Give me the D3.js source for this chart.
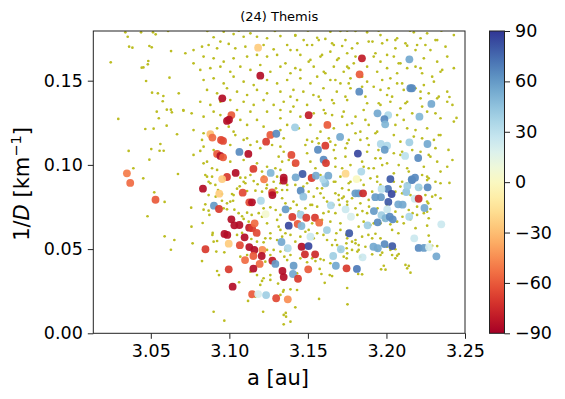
<!DOCTYPE html>
<html>
<head>
<meta charset="UTF-8">
<style>
  body { margin: 0; background: #fff; }
  text { font-family: "DejaVu Sans", sans-serif; }
</style>
</head>
<body>
<svg id="chart"></svg>
<script src="https://d3js.org/d3.v7.min.js"></script>
<script>
// background asteroids in the region: [a (au), 1/D (1/km)]
const background = [
[3.0338,0.1787],[3.0438,0.1787],[3.0514,0.1787],[3.0531,0.1775],[3.0610,0.1795],[3.0353,0.1761],[3.0362,0.1702],[3.0383,0.1696],
[3.0491,0.1706],[3.0506,0.1698],[3.0629,0.1676],[3.0245,0.1609],[3.0484,0.1617],[3.0481,0.1597],[3.0453,0.1579],[3.0442,0.1577],
[3.0619,0.1518],[3.0470,0.1498],[3.0508,0.1429],[3.0545,0.1425],[3.0580,0.1409],[3.0576,0.1378],[3.0678,0.1425],[3.0602,0.1328],
[3.0628,0.1328],[3.0634,0.1312],[3.0538,0.1316],[3.0708,0.1322],[3.0760,0.1306],[3.0293,0.1273],[3.0551,0.1277],[3.0465,0.1213],
[3.0518,0.1215],[3.0601,0.1233],[3.0667,0.1182],[3.0561,0.1124],[3.0503,0.1094],[3.0359,0.1083],[3.0556,0.1084],[3.0582,0.1084],
[3.0491,0.1031],[3.0389,0.0980],[3.0673,0.0946],[3.0452,0.0920],
[3.0522,0.0837],[3.0588,0.0780],[3.0479,0.0695],[3.0757,0.0746],[3.0759,0.0633],[3.0588,0.0576],[3.0650,0.0554],[3.0628,0.0496],
[3.0766,0.0534],[3.0826,0.0429],[3.0900,0.0128],[3.0968,0.0075],[3.0830,0.0655],[3.0894,0.0596],[3.0892,0.0584],[3.0922,0.0370],
[3.0934,0.0346],[3.0917,0.0485],[3.0968,0.0481],[3.0900,0.0544],[3.0922,0.0548],[3.0847,0.0766],[3.0836,0.0734],[3.0868,0.0728],
[3.0873,0.0703],[3.0953,0.0787],[3.0964,0.0742],[3.0985,0.0772],[3.0985,0.0736],[3.1032,0.0734],[3.1024,0.0787],[3.1049,0.0859],
[3.1066,0.0873],[3.1091,0.0900],[3.1070,0.0924],[3.1102,0.0924],[3.0911,0.0881],[3.0879,0.0891],[3.0928,0.0851],[3.0858,0.0930],
[3.0890,0.0930],[3.0868,0.0821],[3.0913,0.0811],[3.0953,0.0827],[3.1017,0.0827],[3.1027,0.0821],[3.1113,0.0845],[3.1166,0.0847],
[3.1180,0.0885],[3.1155,0.0904],[3.1236,0.0861],[3.1282,0.0900],[3.1297,0.0861],[3.1325,0.0891],[3.1336,0.0851],[3.1304,0.0837],
[3.1368,0.0881],[3.1081,0.0695],[3.1091,0.0679],[3.1123,0.0663],[3.1142,0.0703],[3.1187,0.0713],[3.1218,0.0742],[3.1261,0.0748],
[3.1295,0.0732],[3.1325,0.0703],[3.1049,0.0584],[3.1081,0.0596],[3.1140,0.0560],[3.1176,0.0544],[3.1218,0.0540],[3.1261,0.0564],
[3.1304,0.0554],[3.1336,0.0574],[3.1070,0.0455],[3.1113,0.0465],[3.1229,0.0425],[3.1261,0.0465],[3.1282,0.0495],[3.1350,0.0455],
[3.1134,0.0366],[3.1176,0.0346],[3.1218,0.0327],[3.1261,0.0346],[3.1310,0.0295],[3.1346,0.0257],[3.1119,0.0192],[3.1215,0.0128],
[3.1346,0.0109],[3.1389,0.0069],[3.1062,0.0303],[3.1197,0.0287],[3.1208,0.0311],
[3.1346,0.0053],[3.1359,0.0121],[3.1361,0.0099],[3.1420,0.0154],[3.1571,0.0204],[3.1750,0.0269],[3.1752,0.0172],[3.1607,0.0300],
[3.1639,0.0346],[3.1654,0.0340],[3.1586,0.0352],[3.1575,0.0382],[3.1389,0.0261],[3.1431,0.0257],[3.1342,0.0247],[3.1845,0.0350],
[3.1820,0.0352],[3.1966,0.0380],[3.1994,0.0378],[3.1983,0.0401],[3.2121,0.0406],[3.2142,0.0400],[3.2153,0.0360],[3.2132,0.0386],
[3.2323,0.0518],[3.2291,0.0520],[3.2401,0.0893],[3.2344,0.0802],[3.2291,0.0811],[3.2266,0.0772],[3.2259,0.0722],[3.2269,0.0683],
[3.2259,0.0639],[3.2269,0.0580],[3.2276,0.0544],[3.2068,0.0461],[3.2057,0.0499],[3.2078,0.0471],[3.2025,0.0495],[3.2004,0.0514],
[3.1962,0.0465],[3.1909,0.0469],[3.1941,0.0495],[3.1834,0.0455],[3.1823,0.0495],[3.1803,0.0534],[3.1781,0.0544],[3.1750,0.0564],
[3.1745,0.0534],[3.1747,0.0505],[3.1750,0.0475],[3.1747,0.0445],[3.1675,0.0554],[3.1686,0.0524],[3.1707,0.0495],[3.1728,0.0455],
[3.1643,0.0416],[3.1601,0.0435],[3.1580,0.0441],[3.1548,0.0429],[3.1885,0.0584],[3.1930,0.0591],[3.1962,0.0564],[3.1855,0.0663],
[3.1898,0.0643],[3.1919,0.0653],[3.1983,0.0673],[3.2025,0.0647],[3.2068,0.0663],[3.2110,0.0653],[3.2153,0.0677],[3.2195,0.0703],
[3.2238,0.0713],[3.1815,0.0703],[3.1847,0.0726],[3.1889,0.0752],[3.1943,0.0742],[3.2004,0.0762],[3.2057,0.0722],[3.2089,0.0762],
[3.2142,0.0732],[3.2195,0.0752],[3.2259,0.0782],[3.1696,0.0821],[3.1696,0.0792],[3.1702,0.0762],[3.1728,0.0811],[3.1750,0.0782],
[3.1781,0.0802],[3.1834,0.0772],[3.1580,0.0831],[3.1601,0.0805],[3.1622,0.0782],[3.1537,0.0811],[3.1527,0.0762],[3.1559,0.0752],
[3.1408,0.0782],[3.1429,0.0762],[3.1389,0.0742],[3.1442,0.0722],[3.1484,0.0742],[3.1357,0.0772],[3.1336,0.0802],[3.1599,0.0584],
[3.1622,0.0554],[3.1559,0.0594],[3.1537,0.0564],[3.1484,0.0603],[3.1452,0.0574],[3.1389,0.0584],[3.1420,0.0544],[3.1357,0.0495],
[3.1389,0.0465],[3.1452,0.0445],[3.1495,0.0422],[3.1527,0.0445],[3.1368,0.0851],[3.1420,0.0881],[3.1495,0.0891],[3.1559,0.0861],
[3.1622,0.0881],[3.1665,0.0900],[3.1771,0.0900],[3.1834,0.0910],[3.1898,0.0920],[3.1962,0.0881],[3.2047,0.0900],[3.2089,0.0871],
[3.2132,0.0891],[3.2217,0.0861],[3.2259,0.0910],
[3.1643,0.1791],[3.1707,0.1795],[3.1803,0.1795],[3.1877,0.1787],[3.1962,0.1771],[3.2004,0.1741],[3.2068,0.1752],[3.2174,0.1787],
[3.2217,0.1752],[3.2259,0.1781],[3.2323,0.1741],[3.2429,0.1771],[3.1420,0.1767],[3.1473,0.1741],[3.1559,0.1755],[3.1611,0.1748],
[3.1665,0.1712],[3.1739,0.1741],[3.1815,0.1722],[3.1911,0.1732],[3.2057,0.1692],[3.2132,0.1708],[3.2195,0.1712],[3.2280,0.1682],
[3.1368,0.1712],[3.1527,0.1712],[3.1389,0.1682],[3.1452,0.1653],[3.1505,0.1613],[3.1580,0.1643],[3.1643,0.1672],[3.1696,0.1633],
[3.1750,0.1663],[3.1792,0.1603],[3.1919,0.1643],[3.1962,0.1613],[3.2047,0.1643],[3.2089,0.1603],[3.2238,0.1633],[3.2323,0.1613],
[3.2387,0.1643],[3.1357,0.1603],[3.1420,0.1574],[3.1537,0.1583],[3.1601,0.1553],[3.1665,0.1583],[3.1728,0.1553],[3.1760,0.1574],
[3.1877,0.1583],[3.1941,0.1553],[3.2004,0.1574],[3.2068,0.1544],[3.2132,0.1574],[3.2217,0.1574],[3.2344,0.1553],[3.2429,0.1574],
[3.1368,0.1504],[3.1452,0.1514],[3.1516,0.1484],[3.1559,0.1524],[3.1643,0.1504],[3.1707,0.1484],[3.1771,0.1514],[3.1877,0.1494],
[3.1919,0.1464],[3.2025,0.1514],[3.2068,0.1484],[3.2110,0.1445],[3.2238,0.1474],[3.2302,0.1494],[3.1408,0.1445],[3.1471,0.1435],
[3.1535,0.1415],[3.1599,0.1455],[3.1684,0.1435],[3.1771,0.1455],[3.1845,0.1464],[3.1962,0.1445],[3.2004,0.1415],[3.2217,0.1435],
[3.2387,0.1435],[3.1346,0.1375],[3.1431,0.1385],[3.1495,0.1356],[3.1580,0.1385],[3.1665,0.1366],[3.1750,0.1385],[3.1877,0.1366],
[3.1962,0.1356],[3.2025,0.1375],[3.2089,0.1336],[3.2132,0.1375],[3.2217,0.1395],[3.2323,0.1395],[3.2387,0.1375],[3.1389,0.1316],
[3.1452,0.1286],[3.1537,0.1306],[3.1601,0.1326],[3.1654,0.1296],[3.1728,0.1316],[3.1803,0.1286],[3.1855,0.1326],[3.2068,0.1296],
[3.2110,0.1267],[3.2164,0.1306],[3.2259,0.1316],[3.2344,0.1277],[3.2429,0.1257],[3.1368,0.1237],[3.1442,0.1217],[3.1516,0.1237],
[3.1580,0.1197],[3.1665,0.1217],[3.1750,0.1237],[3.1834,0.1197],[3.1887,0.1237],[3.1941,0.1197],[3.2057,0.1237],[3.2132,0.1217],
[3.2259,0.1217],[3.2344,0.1177],[3.1346,0.1158],[3.1495,0.1148],[3.1559,0.1158],[3.1643,0.1138],[3.1750,0.1128],[3.1834,0.1148],
[3.1877,0.1158],[3.2047,0.1177],[3.2089,0.1138],[3.2174,0.1168],[3.2302,0.1148],[3.1346,0.1078],[3.1495,0.1069],[3.1665,0.1088],
[3.1739,0.1049],[3.1877,0.1078],[3.1962,0.1039],[3.2047,0.1069],[3.2089,0.1059],[3.2217,0.1078],[3.2280,0.1049],[3.1408,0.0999],
[3.1516,0.1019],[3.1675,0.0989],[3.1771,0.0999],[3.1855,0.0989],[3.1919,0.0980],[3.2004,0.1009],[3.2078,0.0999],[3.2132,0.0980],
[3.2238,0.0989],[3.2323,0.1019],[3.2387,0.0989],[3.1580,0.0940],[3.1707,0.0930],[3.1941,0.0930],[3.2047,0.0950],[3.2100,0.0900],
[3.2259,0.0930],[3.2344,0.0960],
[3.0900,0.1758],[3.0964,0.1791],[3.1027,0.1777],[3.1091,0.1761],[3.1134,0.1781],[3.1176,0.1761],[3.1240,0.1752],[3.1325,0.1765],
[3.1420,0.1771],[3.0943,0.1732],[3.0996,0.1718],[3.0868,0.1712],[3.0826,0.1702],[3.0772,0.1682],[3.0720,0.1663],[3.0922,0.1692],
[3.1038,0.1692],[3.1102,0.1702],[3.1218,0.1712],[3.1282,0.1686],[3.1431,0.1682],[3.1495,0.1712],[3.1113,0.1643],[3.1176,0.1653],
[3.1240,0.1643],[3.1304,0.1653],[3.1516,0.1623],[3.0836,0.1643],[3.0900,0.1633],[3.0964,0.1613],[3.1027,0.1633],[3.0772,0.1603],
[3.0815,0.1564],[3.0879,0.1574],[3.0943,0.1583],[3.1006,0.1553],[3.1070,0.1583],[3.1134,0.1564],[3.1197,0.1593],[3.1261,0.1553],
[3.1325,0.1583],[3.1389,0.1544],[3.1452,0.1564],[3.0836,0.1504],[3.0900,0.1514],[3.0964,0.1484],[3.1027,0.1524],[3.1091,0.1494],
[3.1155,0.1474],[3.1240,0.1504],[3.1304,0.1484],[3.0858,0.1445],[3.0922,0.1425],[3.0985,0.1455],[3.1049,0.1435],[3.1113,0.1415],
[3.1176,0.1445],[3.1240,0.1425],[3.1325,0.1435],[3.1389,0.1405],[3.0815,0.1375],[3.0879,0.1356],[3.0943,0.1375],[3.1006,0.1385],
[3.1091,0.1375],[3.1155,0.1356],[3.1218,0.1385],[3.1282,0.1356],[3.1408,0.1346],[3.0707,0.1326],[3.0900,0.1316],[3.1049,0.1326],
[3.1134,0.1316],[3.1240,0.1316],[3.1325,0.1326],[3.0836,0.1286],[3.0943,0.1296],[3.1070,0.1267],[3.1113,0.1237],[3.1176,0.1267],
[3.1218,0.1227],[3.1325,0.1277],[3.0772,0.1207],[3.0836,0.1188],[3.0922,0.1217],[3.1027,0.1197],[3.1113,0.1158],[3.1176,0.1138],
[3.1325,0.1207],[3.0772,0.1059],[3.0836,0.1108],[3.0900,0.1088],[3.1006,0.1118],[3.1091,0.1148],[3.1134,0.1118],[3.1197,0.1099],
[3.1325,0.1108],[3.0836,0.1009],[3.0922,0.0970],[3.1006,0.1019],[3.1091,0.1029],[3.1176,0.1009],[3.1240,0.0989],[3.1325,0.0970],
[3.1134,0.0940],[3.1218,0.0930],[3.1304,0.0930],
[3.1325,0.0228],[3.1166,0.0217],[3.1261,0.0317],[3.1431,0.0356],[3.1368,0.0435],[3.1325,0.0485],[3.1314,0.0633],[3.1304,0.0673],
[3.1325,0.0614],[3.1357,0.0594],[3.1261,0.0594],[3.1229,0.0564],[3.1240,0.0495],[3.1240,0.0653],[3.1208,0.0692],[3.1113,0.0716],
[3.1059,0.0713],[3.1006,0.0782],[3.1102,0.0891],[3.1240,0.0881],[3.1471,0.0871],[3.1516,0.0762],[3.1527,0.0653],[3.1505,0.0614],
[3.2057,0.0445],[3.2036,0.0465],[3.1973,0.0479],[3.1823,0.0524],[3.1866,0.0514],[3.1815,0.0485],[3.1781,0.0495],[3.1745,0.0584],
[3.1803,0.0554],[3.1845,0.0574],[3.1909,0.0564],[3.2076,0.0594],[3.2036,0.0614],[3.2185,0.0624],[3.2280,0.0738],[3.2312,0.0821],
[3.2344,0.0891],[3.1675,0.0831],[3.1662,0.0762],[3.1675,0.0713],[3.1632,0.0722],[3.1599,0.0713],[3.1590,0.0673],[3.1643,0.0663],
[3.1707,0.0653],[3.1707,0.0614],[3.1681,0.0594],[3.1654,0.0524],[3.1760,0.0891],[3.1760,0.0851],[3.1750,0.0762],[3.1855,0.0881],
[3.1909,0.0841],[3.1887,0.0792],[3.1941,0.0900],[3.2100,0.0831],[3.2153,0.0821],[3.2248,0.0821],[3.2166,0.0713],[3.2102,0.0692],
[3.1962,0.0653],[3.1823,0.0633],[3.1877,0.0713],[3.1803,0.0742],
[3.2401,0.1403],[3.2420,0.1356],[3.2446,0.1279],[3.2395,0.1089],[3.2420,0.1029],
[3.0860,0.1795],[3.1060,0.1797],[3.1290,0.1795],[3.1500,0.1797],[3.1750,0.1797],[3.1950,0.1797],[3.2150,0.1797],[3.2350,0.1797],
[3.0826,0.1148],[3.0815,0.1083],[3.0858,0.1019],[3.0890,0.0980],[3.0996,0.1227],[3.1038,0.1177],[3.1272,0.1118],[3.1314,0.1049],
[3.1336,0.1019],[3.1378,0.1029],[3.1293,0.0980],[3.1208,0.0960],[3.0868,0.0900],[3.0847,0.0940],[3.1484,0.1118],[3.1527,0.1138],
[3.1569,0.1128],[3.1633,0.1158],[3.1675,0.1118],[3.1739,0.1099],[3.1760,0.1148],[3.1803,0.1188],[3.1887,0.1118],[3.1930,0.1188],
[3.2100,0.1078],[3.2164,0.1088],[3.2227,0.1158],[3.2269,0.1059],[3.2312,0.1099],[3.2333,0.1177],[3.1675,0.1039],[3.1718,0.0980],
[3.1845,0.1019],[3.1887,0.0980],[3.1930,0.1039],[3.1973,0.0999],[3.2142,0.0960],[3.2227,0.0940],[3.2269,0.0920],[3.2312,0.0900],
[3.1675,0.0900],[3.1718,0.0861],[3.1718,0.0802],[3.2057,0.0841],[3.1548,0.0980],[3.1590,0.0861],[3.1505,0.0841],[3.1208,0.0841],
[3.1569,0.1741],[3.1654,0.1722],[3.1718,0.1706],[3.1781,0.1692],[3.1887,0.1732],[3.1973,0.1722],[3.2057,0.1741],[3.2121,0.1722],
[3.2185,0.1682],[3.2248,0.1712],[3.2312,0.1741],[3.2376,0.1702],[3.1590,0.1653],[3.1686,0.1623],[3.1750,0.1583],[3.1803,0.1643],
[3.1930,0.1663],[3.2004,0.1653],[3.2078,0.1603],[3.2185,0.1583],[3.2227,0.1544],[3.2291,0.1524],[3.2355,0.1564],[3.1611,0.1544],
[3.1675,0.1504],[3.1760,0.1484],[3.1845,0.1524],[3.1973,0.1504],[3.2014,0.1455],[3.2100,0.1484],[3.2185,0.1455],[3.2269,0.1425],
[3.2333,0.1405],[3.1569,0.1405],[3.1654,0.1385],[3.1739,0.1405],[3.1866,0.1405],[3.1951,0.1366],[3.2036,0.1405],[3.2121,0.1366],
[3.2227,0.1346],[3.2312,0.1306],[3.1611,0.1306],[3.1718,0.1286],[3.1781,0.1247],[3.1866,0.1267],[3.2185,0.1207],[3.1949,0.1088]
];

// family members: [a (au), 1/D (1/km), spin angle (deg)]
const members = [
[3.1183,0.1696,-25],[3.1197,0.1530,-85],[3.0955,0.1395,-85],[3.1013,0.1296,-60],[3.0985,0.1261,-85],[3.0998,0.1268,-85],
[3.0879,0.1183,-30],[3.0892,0.1162,-55],[3.0947,0.1148,-65],[3.0960,0.1142,-65],[3.1261,0.1178,-60],[3.1299,0.1185,65],
[3.1234,0.1138,-70],[3.1064,0.1077,65],[3.1121,0.1065,-85],[3.0922,0.1065,-60],[3.0943,0.1053,-85],[3.0960,0.1045,-60],
[3.1395,0.1059,-65],[3.1153,0.0976,-70],[3.1040,0.0952,-85],[3.1263,0.0952,50],[3.0985,0.0928,-70],[3.0954,0.0916,-25],
[3.1221,0.0914,-50],[3.1346,0.0924,-85],[3.1346,0.0906,-85],[3.0348,0.0950,-50],[3.0369,0.0893,-55],[3.0530,0.0793,-60],
[3.0832,0.0859,-85],[3.0936,0.0829,-25],[3.1085,0.0835,-65],[3.1272,0.0837,-65],[3.1274,0.0821,-85],[3.1127,0.0778,-65],
[3.1144,0.0778,-85],[3.1201,0.0787,35],[3.0902,0.0758,60],[3.0934,0.0738,-70],[3.1231,0.0708,5],[3.1358,0.0736,60],
[3.1013,0.0677,-85],[3.1032,0.0641,-85],[3.1064,0.0643,-85],[3.1126,0.0627,-80],[3.1145,0.0624,-70],[3.1161,0.0653,-55],
[3.1174,0.0596,-65],[3.0969,0.0590,-85],[3.0987,0.0584,-85],[3.1097,0.0570,-85],[3.0996,0.0532,-25],[3.1067,0.0523,-65],
[3.0848,0.0499,-70],[3.1127,0.0512,-85],[3.1159,0.0495,-85],[3.1210,0.0495,-45],[3.1153,0.0459,-60],[3.1206,0.0459,-85],
[3.1100,0.0435,-55],[3.1193,0.0412,-55],[3.1274,0.0431,-80],[3.1293,0.0412,60],[3.1153,0.0384,-85],[3.0996,0.0380,-70],
[3.1338,0.0370,-85],[3.1346,0.0334,-85],[3.1021,0.0277,-85],[3.1145,0.0232,-60],[3.1183,0.0233,20],[3.1234,0.0227,40],
[3.1298,0.0208,-65],[3.1372,0.0202,-45],[3.1372,0.0505,35],[3.1378,0.0639,85],[3.1401,0.0691,-70],[3.1454,0.0847,65],
[3.1471,0.0811,45],[3.1454,0.0704,40],[3.1490,0.0686,-70],[3.1435,0.0649,-60],[3.1459,0.0637,50],[3.1516,0.0574,25],
[3.1332,0.0542,55],[3.1460,0.0514,-85],[3.1504,0.0518,85],[3.1481,0.0469,-75],[3.1546,0.0469,-75],[3.1409,0.0401,60],
[3.1405,0.0352,55],[3.1437,0.0324,-70],[3.1502,0.0380,-60],[3.1545,0.0686,-70],[3.1572,0.0657,-55],[3.1611,0.0891,45],
[3.1802,0.0831,60],[3.1823,0.0831,60],[3.1851,0.0831,-75],[3.1929,0.0808,60],[3.1965,0.0808,60],[3.2010,0.0857,70],
[3.2033,0.0827,85],[3.1969,0.0857,30],[3.2126,0.0839,45],[3.2133,0.0875,40],[3.2163,0.0910,70],[3.2205,0.0867,40],
[3.2262,0.0867,65],[3.2180,0.0799,25],[3.2205,0.0799,-75],[3.2242,0.0744,55],[3.2012,0.0780,80],[3.2075,0.0766,55],
[3.2103,0.0764,55],[3.1920,0.0726,60],[3.2005,0.0736,25],[3.1740,0.0736,25],[3.1646,0.0760,35],[3.1774,0.0692,20],
[3.1968,0.0702,40],[3.1994,0.0683,50],[3.2021,0.0692,65],[3.2040,0.0677,65],[3.1944,0.0659,65],[3.2145,0.0692,35],
[3.2349,0.0647,25],[3.1880,0.0641,40],[3.1763,0.0594,80],[3.1621,0.0613,40],[3.2177,0.0564,25],[3.1988,0.0530,65],
[3.2037,0.0518,80],[3.1917,0.0514,55],[3.1945,0.0505,55],[3.2205,0.0507,65],[3.2239,0.0507,60],[3.2271,0.0511,20],
[3.2318,0.0457,55],[3.1710,0.0499,40],[3.1848,0.0451,25],[3.1661,0.0459,40],[3.1678,0.0401,55],[3.1746,0.0386,-70],
[3.1812,0.0382,70],[3.1844,0.1633,-80],[3.1829,0.1538,-60],[3.2146,0.1627,55],[3.1827,0.1435,65],[3.2152,0.1455,65],
[3.2163,0.1455,65],[3.2286,0.1362,55],[3.1943,0.1306,55],[3.2011,0.1296,35],[3.1987,0.1271,65],[3.1992,0.1241,50],
[3.2210,0.1286,50],[3.1505,0.1295,-80],[3.1624,0.1237,-60],[3.1418,0.1223,40],[3.1705,0.1166,55],[3.1964,0.1124,35],
[3.2004,0.1114,35],[3.1989,0.1090,60],[3.2146,0.1134,40],[3.2261,0.1124,55],[3.2119,0.1053,30],[3.2202,0.1041,65],
[3.1818,0.1067,85],[3.1611,0.1114,-70],[3.1564,0.1090,65],[3.1422,0.1011,-65],[3.1600,0.1031,65],[3.1615,0.1011,-70],
[3.1466,0.0946,80],[3.1422,0.0926,55],[3.1524,0.0922,-70],[3.1551,0.0936,55],[3.1598,0.0914,35],[3.1630,0.0936,55],
[3.1740,0.0948,-20],[3.1810,0.0916,0],[3.1840,0.0960,35],[3.2025,0.0916,80],[3.2161,0.0914,65],[3.2182,0.0924,65]
];

const xTicks = [3.05, 3.10, 3.15, 3.20, 3.25];
const yTicks = [0.00, 0.05, 0.10, 0.15];
const cTicks = [-90, -60, -30, 0, 30, 60, 90];
const title = "(24) Themis";

const width = 565, height = 399;
const svg = d3.select("#chart").attr("width", width).attr("height", height);

const plotLeft = 93.3, plotRight = 465, plotTop = 31, plotBottom = 333.3;
const tickFont = 17.5, labelFont = 21;

const x = d3.scaleLinear().domain([3.0134, 3.25]).range([plotLeft, plotRight]);
const y = d3.scaleLinear().domain([0, 0.1795]).range([plotBottom, plotTop]);
const color = v => d3.interpolateRdYlBu((v + 90) / 180);

const defs = svg.append("defs");

defs.append("clipPath").attr("id", "plotclip")
  .append("rect")
  .attr("x", plotLeft).attr("y", plotTop)
  .attr("width", plotRight - plotLeft).attr("height", plotBottom - plotTop);

const plot = svg.append("g").attr("clip-path", "url(#plotclip)");

plot.append("g")
  .selectAll("circle")
  .data(background)
  .join("circle")
  .attr("cx", d => x(d[0]))
  .attr("cy", d => y(d[1]))
  .attr("r", 1.35)
  .attr("fill", "#bcbd22");

plot.append("g")
  .selectAll("circle")
  .data(members)
  .join("circle")
  .attr("cx", d => x(d[0]))
  .attr("cy", d => y(d[1]))
  .attr("r", 3.9)
  .attr("fill", d => color(d[2]))
  .attr("fill-opacity", 0.92);

// frame
svg.append("rect")
  .attr("x", plotLeft).attr("y", plotTop)
  .attr("width", plotRight - plotLeft).attr("height", plotBottom - plotTop)
  .attr("fill", "none").attr("stroke", "#222").attr("stroke-width", 1);

// axes
const xAxis = svg.append("g")
  .attr("transform", "translate(0," + plotBottom + ")")
  .call(d3.axisBottom(x).tickValues(xTicks).tickFormat(d3.format(".2f")).tickSize(5.5).tickPadding(6));
const yAxis = svg.append("g")
  .attr("transform", "translate(" + plotLeft + ",0)")
  .call(d3.axisLeft(y).tickValues(yTicks).tickFormat(d3.format(".2f")).tickSize(5.5).tickPadding(5));

[xAxis, yAxis].forEach(g => {
  g.select(".domain").remove();
  g.selectAll("line").attr("stroke", "#222");
  g.selectAll("text")
    .attr("font-family", "DejaVu Sans, sans-serif")
    .attr("font-size", tickFont)
    .attr("fill", "#000");
});

// axis labels
svg.append("text")
  .attr("x", 278).attr("y", 385)
  .attr("text-anchor", "middle")
  .attr("font-size", labelFont)
  .text("a [au]");

const yl = svg.append("text")
  .attr("transform", "translate(29,184) rotate(-90)")
  .attr("text-anchor", "middle")
  .attr("font-size", labelFont);
yl.append("tspan").text("1/");
yl.append("tspan").attr("font-style", "italic").text("D");
yl.append("tspan").text(" [km");
yl.append("tspan").attr("dy", -8).attr("font-size", 14.5).text("\u22121");
yl.append("tspan").attr("dy", 8).text("]");

svg.append("text")
  .attr("x", (plotLeft + plotRight) / 2).attr("y", 21)
  .attr("text-anchor", "middle")
  .attr("font-size", 13)
  .text(title);

// colorbar
const cbX = 489.5, cbW = 15;
const cScale = d3.scaleLinear().domain([-90, 90]).range([plotBottom, plotTop]);

const grad = defs.append("linearGradient")
  .attr("id", "cbgrad")
  .attr("x1", "0%").attr("y1", "100%")
  .attr("x2", "0%").attr("y2", "0%");
d3.range(0, 1.0001, 0.05).forEach(t => {
  grad.append("stop")
    .attr("offset", (t * 100) + "%")
    .attr("stop-color", d3.interpolateRdYlBu(t));
});

svg.append("rect")
  .attr("x", cbX).attr("y", plotTop)
  .attr("width", cbW).attr("height", plotBottom - plotTop)
  .attr("fill", "url(#cbgrad)")
  .attr("stroke", "#222").attr("stroke-width", 1);

const cAxis = svg.append("g")
  .attr("transform", "translate(" + (cbX + cbW) + ",0)")
  .call(d3.axisRight(cScale).tickValues(cTicks)
    .tickFormat(d => d < 0 ? "\u2212" + Math.abs(d) : d)
    .tickSize(5.5).tickPadding(5));
cAxis.select(".domain").remove();
cAxis.selectAll("line").attr("stroke", "#222");
cAxis.selectAll("text")
  .attr("font-family", "DejaVu Sans, sans-serif")
  .attr("font-size", tickFont)
  .attr("fill", "#000");
</script>
</body>
</html>
